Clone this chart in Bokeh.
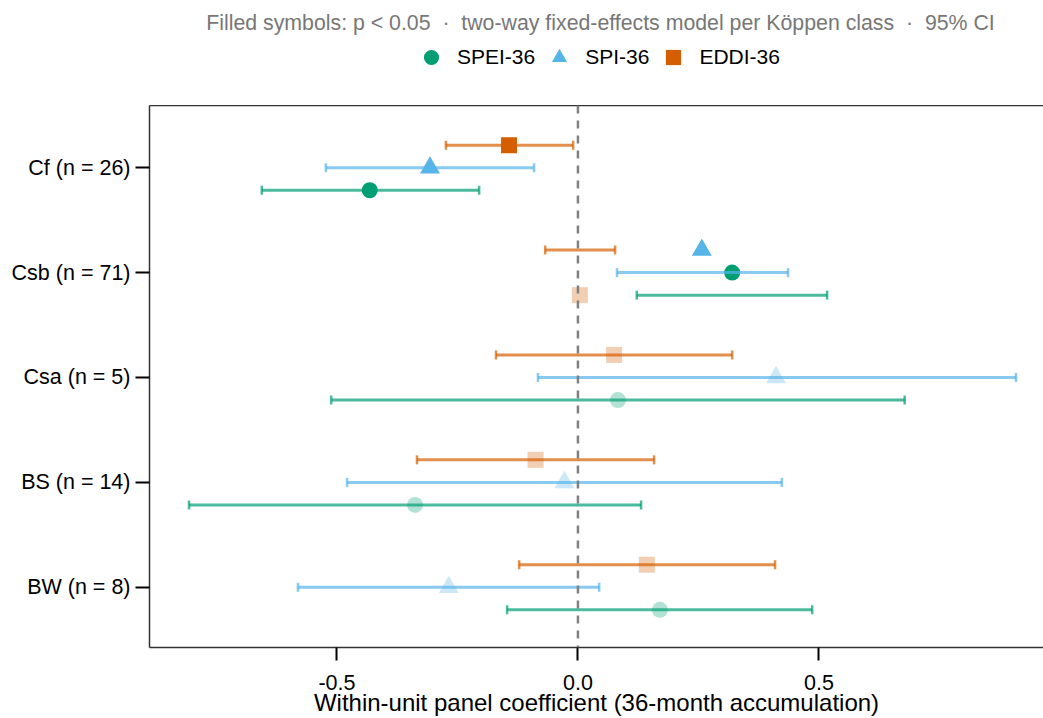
from bokeh.plotting import figure
from bokeh.layouts import column
from bokeh.models import Range1d, FixedTicker, LinearAxis, Span, Legend, LegendItem, ColumnDataSource, Label
from bokeh.embed import file_html
from bokeh.resources import INLINE

# ---------------- data ----------------
categories = ["Cf (n = 26)", "Csb (n = 71)", "Csa (n = 5)", "BS (n = 14)", "BW (n = 8)"]
cat_pos = [5, 4, 3, 2, 1]
series = ["SPEI-36", "SPI-36", "EDDI-36"]

spei_est = [-0.432, 0.320, 0.083, -0.338, 0.170]
spei_lo = [-0.656, 0.122, -0.512, -0.807, -0.147]
spei_hi = [-0.205, 0.517, 0.678, 0.131, 0.486]
spei_sig = [True, True, False, False, False]

spi_est = [-0.307, 0.257, 0.411, -0.028, -0.268]
spi_lo = [-0.523, 0.081, -0.083, -0.479, -0.581]
spi_hi = [-0.091, 0.436, 0.909, 0.423, 0.044]
spi_sig = [True, True, False, False, False]

eddi_est = [-0.143, 0.004, 0.075, -0.088, 0.143]
eddi_lo = [-0.274, -0.068, -0.170, -0.334, -0.122]
eddi_hi = [-0.010, 0.077, 0.320, 0.158, 0.409]
eddi_sig = [True, False, False, False, False]

# dodge slots (interval rows, and marker rows as drawn in the original)
ci_slot = {"SPEI-36": -1, "SPI-36": 0, "EDDI-36": 1}
marker_slot = {"SPEI-36": [-1, 0, -1, -1, -1],
               "SPI-36": [0, 1, 0, 0, 0],
               "EDDI-36": [1, -1, 1, 1, 1]}

xtick_vals = [-0.5, 0.0, 0.5]
xtick_labels = ["-0.5", "0.0", "0.5"]

subtitle = ("Filled symbols: p < 0.05\u00a0\u00a0\u00b7\u00a0\u00a0two-way fixed-effects model per "
            "K\u00f6ppen class\u00a0\u00a0\u00b7\u00a0\u00a095% CI")

# ---------------- style ----------------
FONT = "Liberation Sans"
colors = {"SPEI-36": "#009E73", "SPI-36": "#56B4E9", "EDDI-36": "#D55E00"}
markers = {"SPEI-36": "circle", "SPI-36": "triangle", "EDDI-36": "square"}
msize = {"SPEI-36": 16, "SPI-36": 20, "EDDI-36": 16}
values = {
    "SPEI-36": (spei_est, spei_lo, spei_hi, spei_sig),
    "SPI-36": (spi_est, spi_lo, spi_hi, spi_sig),
    "EDDI-36": (eddi_est, eddi_lo, eddi_hi, eddi_sig),
}
DODGE = 0.215
CAP = 0.043
NAN = float("nan")
TOP_H = 105
LEFT = 149

# ---------------- header (subtitle + legend) ----------------
# header frame is aligned with the main frame (starts at LEFT px), x data units = page pixels
hdr = figure(width=1043, height=TOP_H, output_backend="svg", toolbar_location=None,
             x_range=Range1d(LEFT, 1043), y_range=Range1d(0, TOP_H),
             x_axis_type=None, y_axis_type=None, min_border=0, min_border_left=LEFT)
hdr.outline_line_color = None
hdr.grid.visible = False
hdr.background_fill_color = "white"
hdr.border_fill_color = "white"
hdr.add_layout(Label(x=600, y=TOP_H - 22, text=subtitle, text_align="center", text_baseline="middle",
                     text_font=FONT, text_font_size="21.3px", text_color="#777777"))

legend_items = []
for s in series:
    mr = hdr.scatter(x=[NAN], y=[NAN], marker=markers[s], size=10, fill_color=colors[s], line_color=None)
    legend_items.append(LegendItem(label=s, renderers=[mr]))
legend = Legend(items=legend_items, orientation="horizontal", location=(412 - LEFT, TOP_H - 76),
                glyph_width=38, glyph_height=38, label_height=38, label_standoff=7, spacing=5,
                padding=0, margin=0, border_line_color=None, background_fill_alpha=0,
                label_text_font=FONT, label_text_font_size="21px", label_text_color="black",
                label_text_baseline="middle")
hdr.add_layout(legend, "center")

# ---------------- main panel ----------------
p = figure(width=1043, height=718 - TOP_H, output_backend="svg", toolbar_location=None,
           x_range=Range1d(-0.889, 0.966), y_range=Range1d(0.426, 5.593),
           min_border_left=LEFT, min_border_right=0, min_border_top=0, min_border_bottom=71)
p.background_fill_color = "white"
p.border_fill_color = "white"
p.outline_line_color = None
p.grid.visible = False

xa = p.xaxis[0]
xa.ticker = FixedTicker(ticks=xtick_vals)
xa.major_label_overrides = {v: l for v, l in zip(xtick_vals, xtick_labels)}
xa.axis_label = "Within-unit panel coefficient (36-month accumulation)"
ya = p.yaxis[0]
ya.ticker = FixedTicker(ticks=cat_pos)
ya.major_label_overrides = {v: l for v, l in zip(cat_pos, categories)}

for ax in (xa, ya):
    ax.axis_line_color = "#333333"
    ax.axis_line_width = 1.5
    ax.major_tick_line_color = "black"
    ax.major_tick_line_width = 2
    ax.major_tick_in = 0
    ax.minor_tick_line_color = None
    ax.major_label_text_font = FONT
    ax.major_label_text_font_size = "21.5px"
    ax.major_label_text_color = "black"
    ax.axis_label_text_font = FONT
    ax.axis_label_text_font_size = "24px"
    ax.axis_label_text_font_style = "normal"
    ax.axis_label_text_color = "black"
xa.major_tick_out = 13
xa.major_label_standoff = 14
xa.axis_label_standoff = -4
ya.major_tick_out = 14
ya.major_label_standoff = 5

top = LinearAxis(ticker=FixedTicker(ticks=[0.0]), axis_line_color="#333333", axis_line_width=1.5,
                 major_tick_out=0, major_tick_in=0, minor_tick_out=0, minor_tick_in=0,
                 major_tick_line_color=None, major_label_standoff=0,
                 major_label_overrides={0.0: ""}, major_label_text_font_size="1px")
p.add_layout(top, "above")

for s in series:
    est, lo, hi, sig = values[s]
    y_ci = [c + ci_slot[s] * DODGE for c in cat_pos]
    y_mk = [c + m * DODGE for c, m in zip(cat_pos, marker_slot[s])]
    src = ColumnDataSource(dict(est=est, lo=lo, hi=hi, y=y_ci,
                                cy0=[v - CAP for v in y_ci], cy1=[v + CAP for v in y_ci],
                                ym=y_mk, a=[1.0 if g else 0.3 for g in sig]))
    col = colors[s]
    p.segment(x0="lo", y0="y", x1="hi", y1="y", source=src, line_color=col, line_alpha=0.7, line_width=3)
    p.segment(x0="lo", y0="cy0", x1="lo", y1="cy1", source=src, line_color=col, line_alpha=0.7, line_width=2.5)
    p.segment(x0="hi", y0="cy0", x1="hi", y1="cy1", source=src, line_color=col, line_alpha=0.7, line_width=2.5)
    p.scatter(x="est", y="ym", source=src, marker=markers[s], size=msize[s],
              fill_color=col, fill_alpha="a", line_color=None)

p.add_layout(Span(location=0, dimension="height", line_color="#808080", line_width=2.5, line_dash="8 7"))

layout = column(hdr, p, spacing=0)
open("out.html", "w").write(file_html(layout, INLINE))
